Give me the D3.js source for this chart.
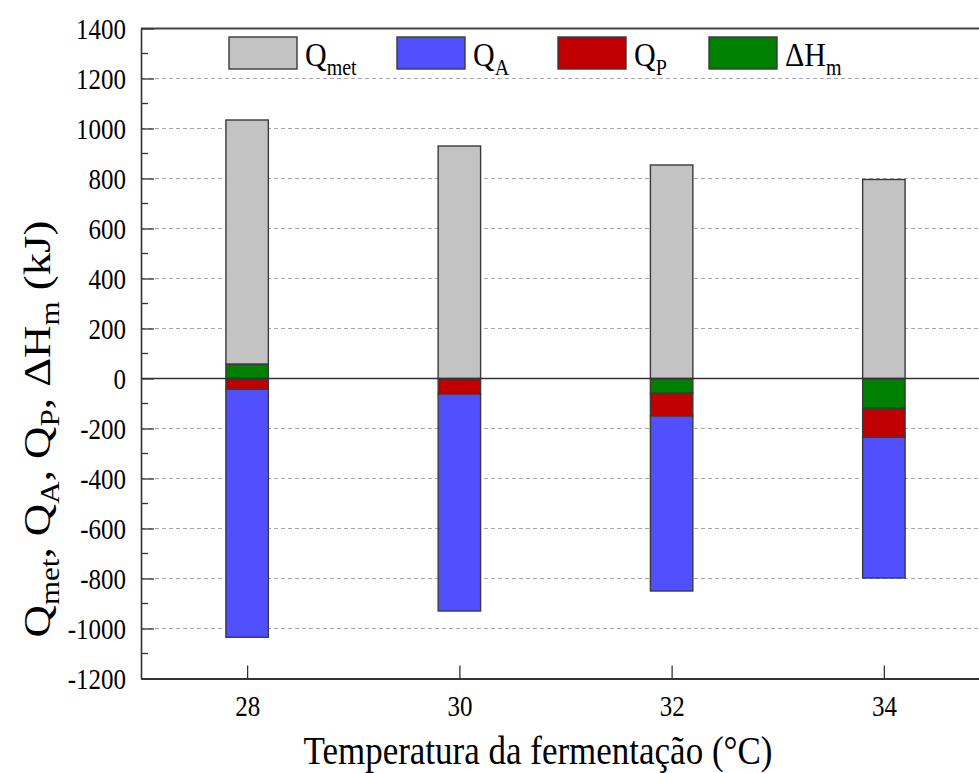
<!DOCTYPE html>
<html>
<head>
<meta charset="utf-8">
<script src="https://cdn.jsdelivr.net/npm/d3@7"></script>
<style>
  body { margin: 0; background: #fff; }
  svg { display: block; }
  svg text { font-family: "Liberation Serif", "Times New Roman", serif !important; }
</style>
</head>
<body>
<svg id="chart" width="979" height="773"></svg>
<script>
// Fermentation temperatures (°C)
const temperatures = [28, 30, 32, 34];
// Energy terms per temperature (kJ)
const qMet = [976, 930, 854, 796];
const qA = [-992, -868, -700, -563];
const qP = [-43, -62, -91, -116];
const dHm = [58, 0, -59, -119];

const yTicks = [-1200, -1000, -800, -600, -400, -200, 0, 200, 400, 600, 800, 1000, 1200, 1400];
const xTicks = [28, 30, 32, 34];

const seriesKeys = ["dHm", "qP", "qA", "qMet"];
const colors = { qMet: "#c3c3c3", qA: "#5050ff", qP: "#c00000", dHm: "#008000" };

const rows = temperatures.map((t, i) => ({ t, qMet: qMet[i], qA: qA[i], qP: qP[i], dHm: dHm[i] }));

const svg = d3.select("#chart");
const plotLeft = 141, plotRight = 990, plotTop = 28.5, plotBottom = 678.5;
const stretch = 1.15; // glyphs are drawn slightly taller than wide
const serifStack = "'Liberation Serif', 'Times New Roman', serif";

const x = d3.scaleLinear().domain([27, 35]).range([plotLeft, plotRight]);
const y = d3.scaleLinear().domain([-1200, 1400]).range([plotBottom, plotTop]);

// Dashed grid lines at every major tick
svg.append("g").selectAll("line")
  .data(yTicks.filter(v => v !== 0 && v !== -1200 && v !== 1400))
  .join("line")
  .attr("x1", plotLeft).attr("x2", 979)
  .attr("y1", d => y(d)).attr("y2", d => y(d))
  .attr("stroke", "#a8a8a8").attr("stroke-width", 1.2)
  .attr("stroke-dasharray", "4,3");

// Stacked bars: positives grow upward, negatives downward
const stack = d3.stack().keys(seriesKeys).offset(d3.stackOffsetDiverging);
const layers = stack(rows);
const halfW = 0.2;

svg.append("g").selectAll("g")
  .data(layers)
  .join("g")
  .attr("fill", d => colors[d.key])
  .selectAll("rect")
  .data(d => d.filter(s => s[1] !== s[0]))
  .join("rect")
  .attr("x", d => x(d.data.t - halfW))
  .attr("width", d => x(d.data.t + halfW) - x(d.data.t - halfW))
  .attr("y", d => y(Math.max(d[0], d[1])))
  .attr("height", d => Math.abs(y(d[0]) - y(d[1])))
  .attr("stroke", "#3a3a3a").attr("stroke-width", 1.4);

// Zero line
svg.append("line")
  .attr("x1", plotLeft).attr("x2", 979)
  .attr("y1", y(0)).attr("y2", y(0))
  .attr("stroke", "#333").attr("stroke-width", 1.4);

// Frame: top border
svg.append("line").attr("x1", plotLeft).attr("x2", 979).attr("y1", plotTop).attr("y2", plotTop)
  .attr("stroke", "#444").attr("stroke-width", 1.8);

// Y axis with inward ticks
const yAxis = d3.axisLeft(y).tickValues(yTicks).tickFormat(d => String(d))
  .tickSizeInner(-13).tickSizeOuter(0);
const gy = svg.append("g").attr("transform", `translate(${plotLeft},0)`).call(yAxis)
  .attr("font-size", 25).attr("font-family", null);
gy.select(".domain").attr("stroke", "#333").attr("stroke-width", 1.6);
gy.selectAll(".tick line").attr("stroke", "#333").attr("stroke-width", 1.3);
gy.selectAll(".tick text").attr("fill", "#000")
  .style("font-family", serifStack)
  .attr("x", -15).attr("y", 0).attr("dy", "0.34em")
  .attr("transform", `scale(1,${stretch})`);

// Minor ticks on the y axis
const minor = d3.range(-1100, 1400, 200);
svg.append("g").selectAll("line").data(minor).join("line")
  .attr("x1", plotLeft).attr("x2", plotLeft + 7)
  .attr("y1", d => y(d)).attr("y2", d => y(d))
  .attr("stroke", "#333").attr("stroke-width", 1.3);

// X axis with inward ticks
const xAxis = d3.axisBottom(x).tickValues(xTicks).tickFormat(d => String(d))
  .tickSizeInner(-13).tickSizeOuter(0);
const gx = svg.append("g").attr("transform", `translate(0,${plotBottom})`).call(xAxis)
  .attr("font-size", 25).attr("font-family", null);
gx.select(".domain").attr("stroke", "#333").attr("stroke-width", 1.8);
gx.selectAll(".tick line").attr("stroke", "#333").attr("stroke-width", 1.3);
gx.selectAll(".tick text").attr("fill", "#000")
  .style("font-family", serifStack)
  .attr("y", 0).attr("dy", 33)
  .attr("transform", `scale(1,${stretch})`);

// Axis titles
svg.append("text")
  .attr("transform", `translate(538,764) scale(1,${stretch})`)
  .attr("text-anchor", "middle").attr("font-size", 35)
  .text("Temperatura da fermentação (°C)");

const yTitle = svg.append("text")
  .attr("transform", `translate(50,429) rotate(-90) scale(${stretch},1)`)
  .attr("text-anchor", "middle").attr("font-size", 39);
const titleParts = [
  ["Q", "met", ", "], ["Q", "A", ", "], ["Q", "P", ", "], ["ΔH", "m", " (kJ)"]
];
titleParts.forEach(([main, sub, tail]) => {
  yTitle.append("tspan").text(main);
  yTitle.append("tspan").attr("font-size", 27).attr("dy", 9).text(sub);
  yTitle.append("tspan").attr("dy", -9).text(tail);
});

// Legend
const legendItems = [
  { key: "qMet", main: "Q", sub: "met", bx: 229 },
  { key: "qA", main: "Q", sub: "A", bx: 397 },
  { key: "qP", main: "Q", sub: "P", bx: 558 },
  { key: "dHm", main: "ΔH", sub: "m", bx: 709 }
];
const lg = svg.append("g");
legendItems.forEach(it => {
  lg.append("rect")
    .attr("x", it.bx).attr("y", 37).attr("width", 68).attr("height", 32)
    .attr("fill", colors[it.key]).attr("stroke", "#3a3a3a").attr("stroke-width", 1.4);
  const t = lg.append("text")
    .attr("transform", `translate(${it.bx + 76},66) scale(1,${stretch})`)
    .attr("font-size", 30);
  t.append("tspan").text(it.main);
  t.append("tspan").attr("font-size", 20).attr("dy", 8).text(it.sub);
});
</script>
</body>
</html>
